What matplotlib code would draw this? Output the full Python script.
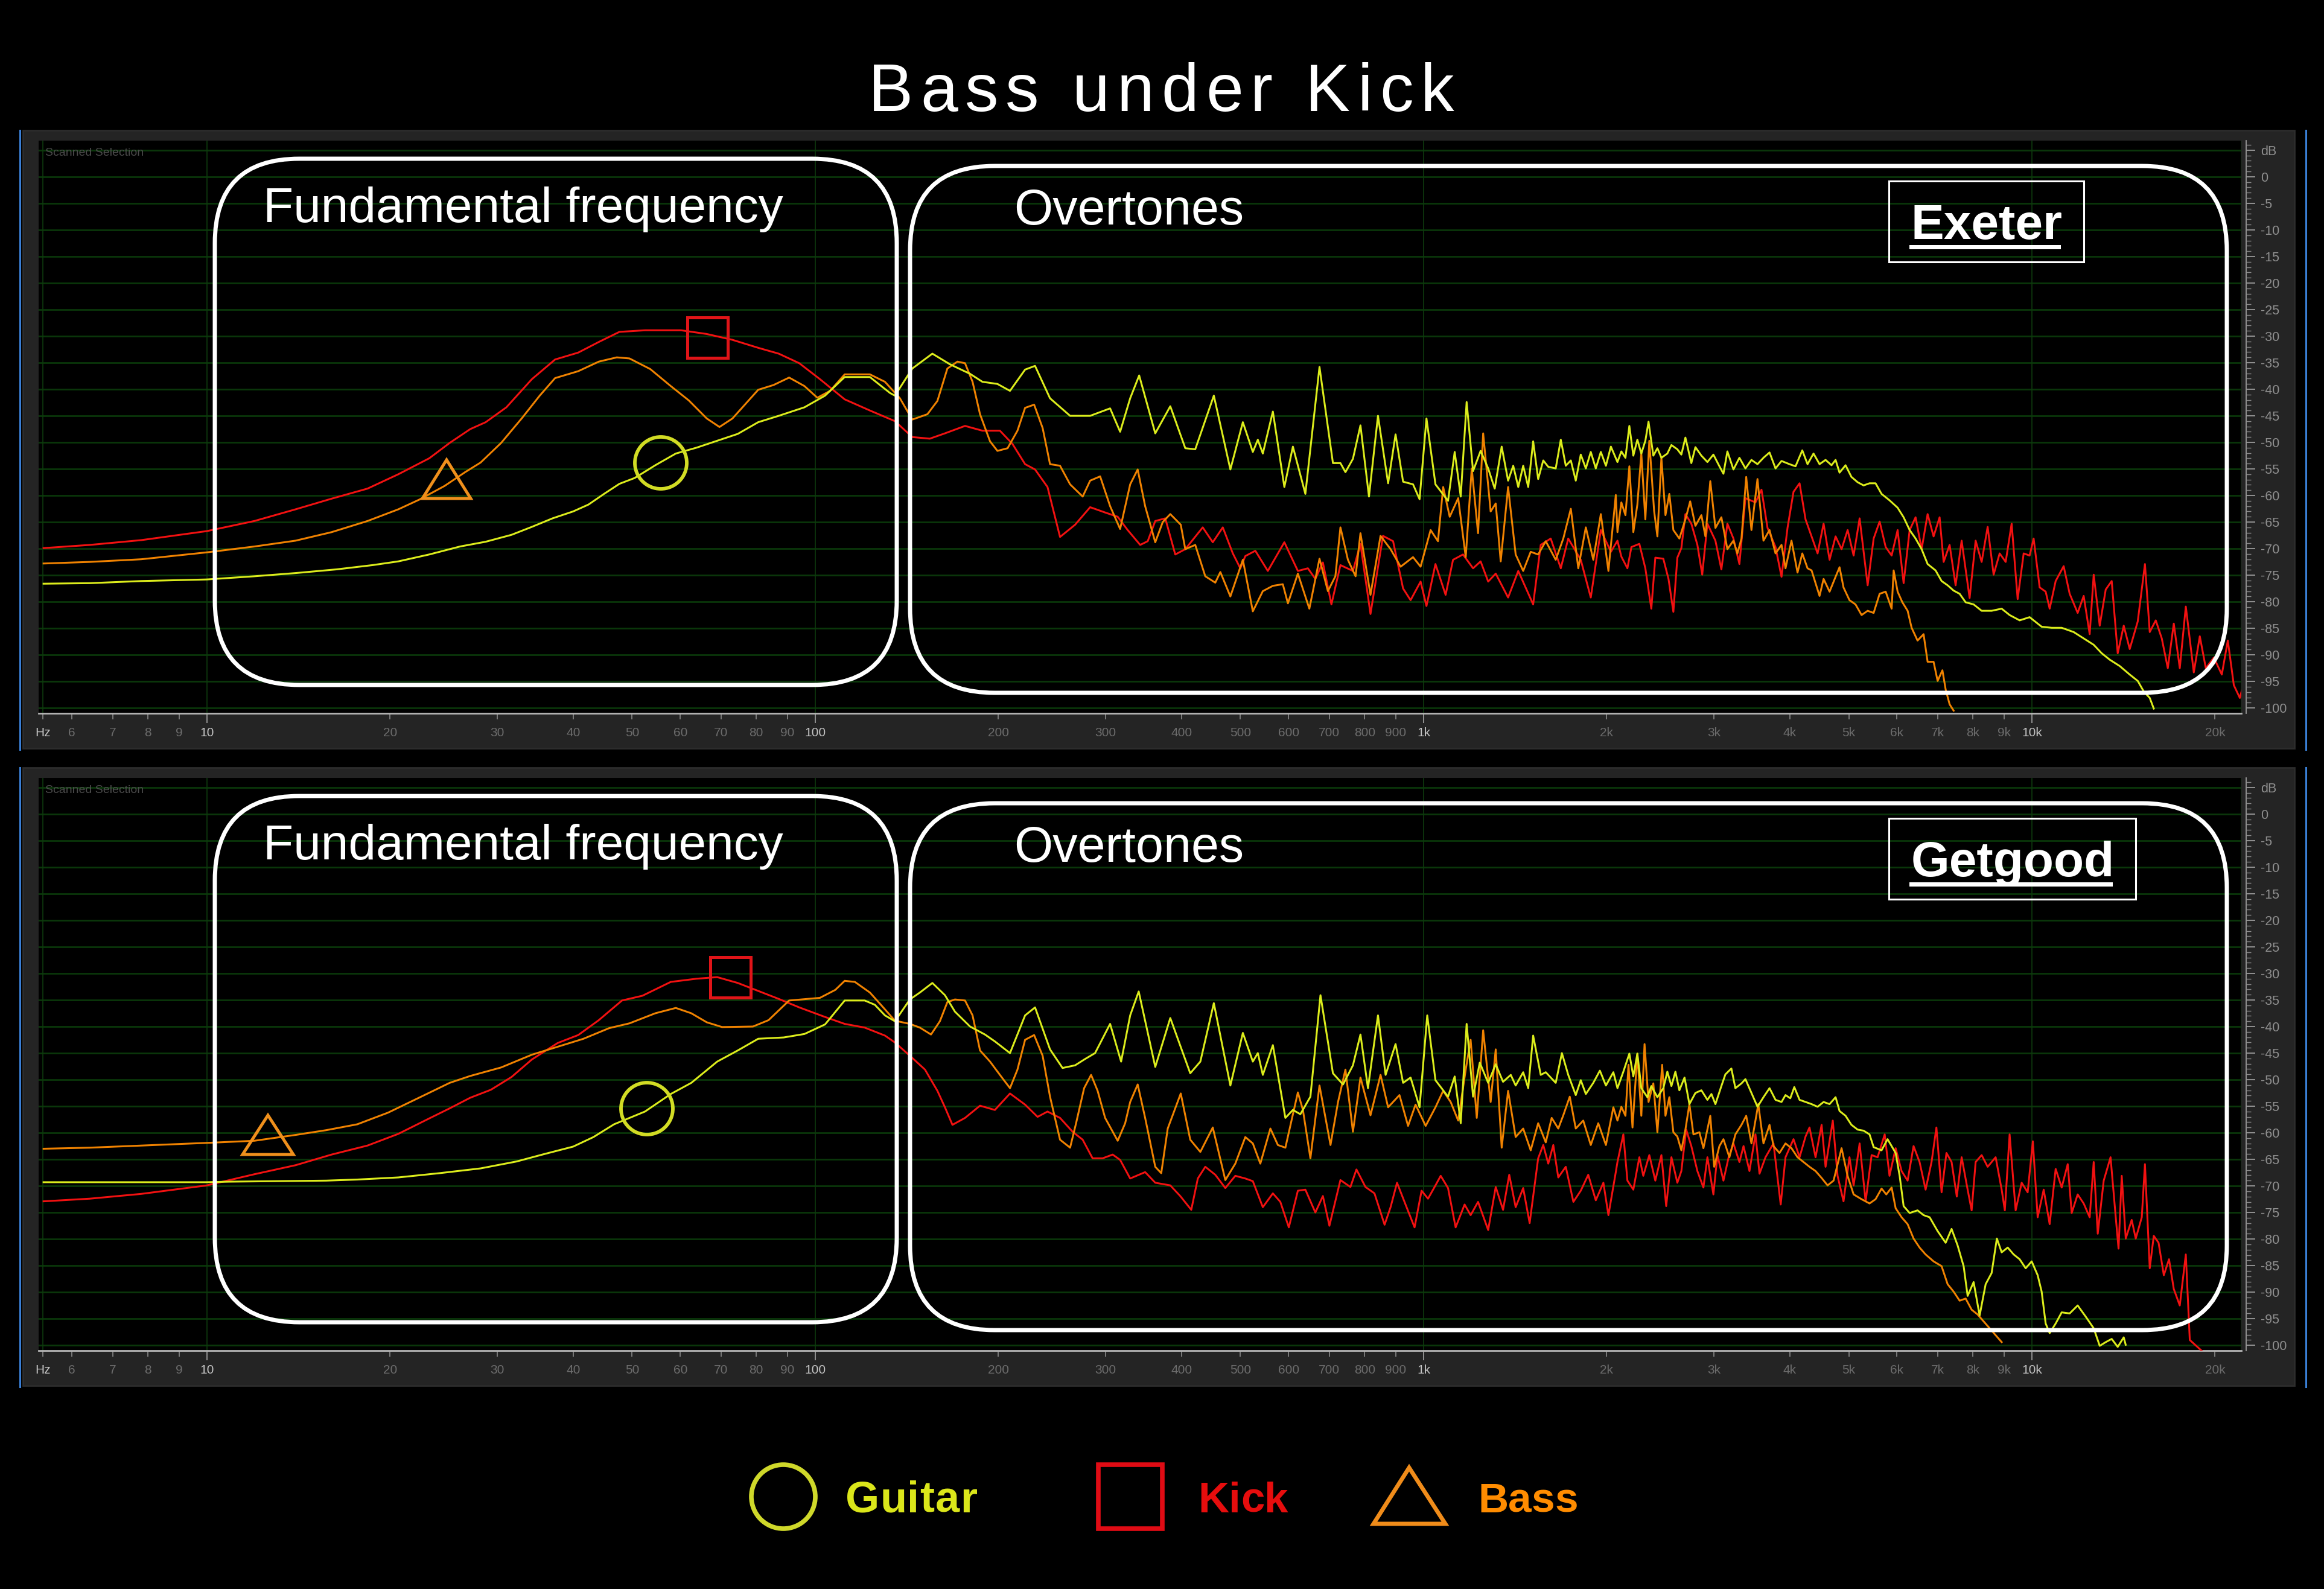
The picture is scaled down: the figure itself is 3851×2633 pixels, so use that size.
import matplotlib
matplotlib.use("Agg")
import numpy as np
import matplotlib.pyplot as plt
from matplotlib.patches import FancyBboxPatch, Rectangle, Circle, Polygon
from matplotlib.ticker import FixedLocator

plt.rcParams['font.family'] = ['Liberation Sans', 'DejaVu Sans']

# ---------------------------------------------------------------- data
# spectra: (frequency Hz, level dB)
EXETER_KICK = [
    (5.39, -69.9), (6.42, -69.3), (7.80, -68.4), (10.0, -66.7), (11.97, -64.8), (13.99, -62.6),
    (16.03, -60.6), (18.37, -58.7), (20.64, -56.0), (23.20, -53.0), (25.07, -50.1), (27.10, -47.5),
    (28.73, -46.2), (31.07, -43.4), (34.22, -38.1), (37.36, -34.4), (40.78, -33.1), (44.08, -31.1),
    (47.66, -29.2), (52.52, -28.9), (60.19, -28.9), (66.33, -29.6), (73.11, -30.7), (80.59, -32.2),
    (87.10, -33.3), (94.15, -35.1), (101.8, -38.1),
    (111.8, -41.9), (123.0, -44.0), (135.2, -46.0), (144.4, -49.0), (154.3, -49.3), (163.4, -48.3),
    (176.3, -46.9), (188.3, -47.8), (201.2, -47.8), (211.0, -50.3), (221.3, -54.1), (229.8, -55.1),
    (240.9, -58.4), (252.6, -67.8), (267.4, -65.5), (283.1, -62.2), (299.6, -63.2), (314.2, -64.0),
    (326.3, -66.5), (342.1, -69.3), (352.0, -68.6), (362.2, -64.8), (376.2, -64.3), (390.7, -71.1),
    (405.8, -70.1), (433.5, -66.0), (450.3, -68.8), (467.7, -66.0), (485.8, -70.9), (499.8, -73.7),
    (509.3, -71.4), (529.0, -70.4), (554.6, -74.2), (590.4, -68.8), (621.4, -74.2), (645.4, -73.7),
    (663.9, -75.7), (683.1, -72.6), (705.5, -80.5), (730.0, -73.1), (765.4, -74.2), (787.5, -69.1),
    (818.0, -82.3), (857.6, -67.6), (891.0, -68.6), (925.4, -77.5), (952.0, -79.7), (988.8, -76.2),
    (1011, -80.8), (1046, -72.9), (1087, -78.7), (1118, -72.1), (1161, -71.1), (1206, -73.7),
    (1241, -72.4), (1277, -76.2), (1314, -74.7), (1377, -79.2), (1431, -74.2), (1514, -80.5),
    (1558, -69.3), (1618, -68.1), (1681, -73.7), (1729, -68.1), (1813, -72.1), (1883, -79.2),
    (1956, -66.5), (2032, -70.6),
    (2083, -68.5), (2114, -71.5), (2163, -73.7), (2196, -69.7), (2263, -69.1), (2315, -73.7),
    (2368, -81.3), (2404, -71.7), (2478, -71.9), (2527, -75.7), (2574, -81.9), (2613, -71.7),
    (2653, -69.9), (2694, -63.5), (2755, -65.3), (2819, -69.3), (2871, -74.9), (2928, -65.3),
    (3018, -68.5), (3087, -73.9), (3158, -65.3), (3231, -68.1), (3305, -72.9), (3381, -60.5),
    (3512, -61.3), (3593, -58.9), (3676, -66.1), (3789, -69.7), (3876, -75.3), (3965, -66.1),
    (4056, -59.3), (4150, -57.7), (4245, -64.5), (4343, -67.7), (4443, -70.9), (4545, -65.3),
    (4649, -72.1), (4756, -67.7), (4865, -70.1), (4978, -66.5), (5092, -71.3), (5209, -64.3),
    (5370, -76.9), (5493, -68.1), (5619, -64.9), (5749, -69.7), (5880, -71.3), (6015, -66.5),
    (6153, -76.5), (6295, -66.5), (6438, -64.1), (6587, -70.1), (6738, -63.5), (6892, -67.7),
    (7051, -64.1), (7159, -72.5), (7323, -69.3), (7491, -76.9), (7664, -68.5), (7899, -79.3),
    (8081, -68.5), (8267, -72.5), (8457, -65.9), (8650, -74.9), (8850, -70.9), (9054, -72.5),
    (9261, -65.3), (9474, -79.5), (9692, -70.9), (9913, -71.3), (10065, -68.1), (10297, -77.3),
    (10534, -78.1), (10694, -81.3), (10940, -76.1), (11276, -73.3), (11535, -78.5), (11890, -82.1),
    (12164, -78.9), (12443, -86.1), (12634, -74.9), (12925, -84.5), (13222, -77.7), (13525, -76.1),
    (13836, -89.7), (14155, -84.5), (14479, -88.9), (14926, -83.7), (15338, -72.9), (15619, -85.7),
    (15979, -83.5), (16347, -86.9), (16724, -92.5), (17107, -84.1), (17500, -92.5), (17904, -80.9),
    (18453, -93.3), (18878, -86.5), (19313, -92.5), (19907, -90.5), (20518, -93.7), (20989, -87.3),
    (21472, -95.7), (21966, -98.1), (22405, -94.5),
]

EXETER_GUITAR = [
    (5.39, -76.6), (6.42, -76.5), (7.80, -76.1), (10.0, -75.8), (11.97, -75.2), (13.99, -74.6),
    (16.35, -73.9), (18.73, -73.1), (20.64, -72.4), (23.20, -71.1), (26.07, -69.6), (28.73, -68.7),
    (31.68, -67.4), (34.22, -65.9), (37.0, -64.3), (40.0, -63.0), (42.4, -61.7), (44.96, -59.7),
    (47.66, -57.8), (50.5, -56.7), (54.6, -54.3), (59.0, -52.1), (63.8, -51.0), (69.0, -49.7),
    (74.6, -48.4), (80.59, -46.2), (87.10, -45.0), (96.0, -43.4), (103.8, -41.2),
    (111.8, -37.7), (123.0, -37.7), (132.7, -40.7), (135.2, -41.2), (144.4, -36.1), (155.8, -33.3),
    (166.5, -35.3), (179.7, -37.1), (188.3, -38.6), (199.3, -39.0), (209.0, -40.3), (221.3, -36.3),
    (229.8, -35.6), (243.2, -41.7), (262.4, -45.0), (283.1, -45.0), (305.3, -43.6), (317.1, -48.0),
    (329.4, -41.7), (340.8, -37.4), (362.2, -48.3), (383.4, -43.2), (405.8, -51.1), (421.4, -51.3),
    (452.1, -41.2), (481.3, -55.1), (504.6, -46.2), (524.0, -51.8), (534.0, -49.5), (544.2, -52.1),
    (565.3, -44.2), (590.4, -58.4), (609.8, -50.8), (639.3, -59.7), (674.4, -35.8), (709.6, -53.9),
    (730.0, -53.9), (744.0, -55.6), (765.4, -53.1), (787.5, -46.8), (813.3, -60.2), (841.5, -45.0),
    (874.4, -57.7), (899.4, -48.5), (925.4, -57.4), (960.9, -57.9), (985.0, -60.7), (1011, -45.5),
    (1046, -57.9), (1097, -61.0), (1125, -51.8), (1151, -60.2), (1177, -42.4), (1206, -55.4),
    (1241, -51.6), (1277, -54.9), (1309, -58.7), (1344, -50.8), (1377, -57.2), (1404, -54.4),
    (1431, -58.4), (1458, -54.4), (1486, -58.4), (1514, -49.8), (1543, -56.9), (1573, -53.4),
    (1603, -54.6), (1649, -54.9), (1681, -49.5), (1713, -54.4), (1746, -53.4), (1779, -57.2),
    (1813, -52.3), (1848, -54.9), (1883, -51.8), (1919, -54.9), (1956, -51.8), (1994, -54.4),
    (2032, -50.8),
    (2083, -53.7), (2114, -51.7), (2147, -52.9), (2179, -46.9), (2212, -52.5), (2246, -49.5),
    (2280, -52.1), (2315, -49.7), (2343, -46.1), (2386, -52.5), (2423, -51.1), (2460, -52.9),
    (2516, -52.1), (2555, -50.5), (2613, -51.3), (2653, -52.3), (2694, -49.1), (2755, -53.9),
    (2798, -50.9), (2862, -52.5), (2928, -53.7), (2995, -52.3), (3064, -54.5), (3111, -55.9),
    (3158, -51.7), (3231, -55.1), (3305, -52.9), (3381, -54.9), (3459, -53.3), (3539, -54.1),
    (3620, -52.9), (3704, -51.9), (3789, -54.9), (3876, -53.5), (3994, -54.1), (4087, -54.5),
    (4193, -51.5), (4277, -54.1), (4375, -52.1), (4476, -54.1), (4579, -53.3), (4684, -54.3),
    (4756, -53.3), (4828, -55.7), (4939, -54.3), (5050, -56.5), (5170, -57.5), (5288, -58.1),
    (5408, -57.7), (5533, -57.7), (5660, -59.7), (5833, -60.9), (6015, -62.3), (6153, -64.1),
    (6295, -66.5), (6438, -68.1), (6587, -70.1), (6738, -72.9), (6944, -74.1), (7104, -76.1),
    (7268, -76.9), (7435, -77.9), (7606, -78.5), (7781, -80.1), (8020, -80.5), (8267, -81.7),
    (8585, -81.7), (8918, -81.3), (9190, -82.5), (9546, -83.5), (9913, -82.9), (10375, -84.7),
    (10775, -84.9), (11192, -84.9), (11712, -85.7), (12164, -86.9), (12634, -88.1), (13024, -89.7),
    (13423, -90.9), (13942, -92.1), (14479, -93.7), (14926, -94.9), (15272, -96.9), (15619, -98.1),
    (15859, -100.1),
]

EXETER_BASS = [
    (5.39, -72.8), (6.42, -72.5), (7.80, -72.0), (10.0, -70.7), (11.97, -69.6), (13.99, -68.5),
    (16.03, -66.9), (18.37, -64.8), (20.64, -62.6), (22.32, -60.8), (24.59, -58.2), (26.58, -55.6),
    (28.18, -53.8), (30.46, -50.1), (32.92, -45.5), (35.25, -41.2), (37.36, -37.9), (40.78, -36.6),
    (44.08, -34.8), (47.19, -34.0), (49.5, -34.2), (53.56, -36.2), (57.88, -39.4), (61.97, -42.1),
    (66.33, -45.5), (69.6, -47.1), (73.11, -45.5), (80.59, -40.1), (85.42, -39.2), (90.6, -37.8),
    (96.0, -39.4), (100.8, -41.6), (105.8, -40.3),
    (111.8, -37.2), (123.0, -37.2), (130.2, -38.6), (137.8, -41.7), (144.4, -45.7), (152.9, -44.7),
    (158.8, -42.2), (164.9, -36.1), (171.3, -34.8), (176.3, -35.1), (181.4, -38.6), (186.6, -44.7),
    (193.8, -49.8), (199.3, -51.6), (207.1, -51.1), (215.0, -47.8), (221.3, -43.5), (229.0, -42.9),
    (236.5, -47.3), (243.2, -54.1), (252.6, -54.4), (262.4, -57.9), (275.2, -60.2), (283.1, -57.2),
    (294.0, -56.4), (305.3, -62.0), (317.1, -66.3), (329.4, -57.9), (338.9, -55.1), (348.6, -62.0),
    (362.2, -68.8), (372.6, -65.0), (383.4, -63.5), (398.9, -65.5), (405.8, -70.1), (421.4, -69.3),
    (437.7, -75.2), (454.6, -76.4), (463.4, -74.4), (481.3, -79.0), (504.6, -72.1), (524.0, -81.8),
    (544.2, -78.0), (565.3, -77.0), (587.0, -76.7), (598.4, -80.3), (621.4, -74.7), (649.0, -81.3),
    (674.4, -71.9), (696.2, -78.0), (716.2, -75.2), (730.0, -66.0), (751.0, -72.1), (773.1, -75.2),
    (787.5, -67.1), (818.0, -78.7), (849.7, -67.6), (882.6, -70.1), (916.8, -73.4), (960.9, -71.6),
    (988.8, -73.4), (1027, -66.5), (1056, -68.6), (1077, -58.4), (1104, -64.0), (1140, -60.5),
    (1173, -71.6), (1200, -54.9), (1229, -67.1), (1253, -48.3), (1289, -63.0), (1314, -61.5),
    (1339, -72.4), (1377, -58.4), (1417, -71.1), (1458, -74.2), (1500, -70.6), (1543, -71.1),
    (1588, -68.6), (1649, -72.1), (1697, -68.1), (1746, -62.5), (1796, -73.7), (1848, -66.0),
    (1901, -72.1), (1956, -63.5), (2013, -74.2), (2070, -59.9),
    (2083, -66.9), (2114, -61.3), (2147, -63.7), (2179, -54.5), (2212, -66.9), (2246, -61.7),
    (2280, -52.1), (2315, -64.5), (2350, -49.7), (2393, -62.9), (2423, -67.7), (2460, -52.9),
    (2498, -63.7), (2535, -59.7), (2574, -66.5), (2633, -68.1), (2694, -64.5), (2743, -61.1),
    (2798, -65.7), (2862, -63.7), (2906, -67.7), (2960, -57.3), (3018, -66.1), (3087, -64.1),
    (3158, -70.1), (3231, -68.5), (3280, -70.9), (3331, -68.1), (3391, -56.5), (3459, -66.5),
    (3539, -56.9), (3620, -68.5), (3704, -66.5), (3789, -70.9), (3876, -69.3), (3935, -73.7),
    (4025, -68.5), (4118, -74.5), (4193, -70.9), (4277, -73.7), (4343, -74.1), (4409, -76.5),
    (4476, -78.9), (4545, -75.7), (4649, -78.1), (4756, -75.3), (4828, -73.5), (4901, -77.3),
    (5013, -79.7), (5129, -80.5), (5248, -82.5), (5370, -81.7), (5493, -82.1), (5619, -78.5),
    (5749, -78.1), (5880, -81.3), (5925, -74.1), (6015, -78.1), (6124, -80.1), (6247, -81.7),
    (6342, -84.9), (6486, -87.3), (6636, -86.1), (6738, -91.3), (6892, -91.3), (6998, -94.9),
    (7126, -92.9), (7214, -96.5), (7323, -99.3), (7435, -100.5),
]

GETGOOD_KICK = [
    (5.39, -72.9), (6.42, -72.4), (7.80, -71.5), (10.0, -69.9), (11.97, -67.8), (13.99, -66.1),
    (16.03, -64.1), (18.37, -62.4), (20.64, -60.2), (23.20, -57.3), (25.07, -55.4), (27.10, -53.4),
    (29.3, -51.9), (31.68, -49.5), (34.22, -46.2), (37.73, -43.1), (40.78, -41.6), (44.08, -38.8),
    (48.12, -35.1), (52.0, -34.2), (57.88, -31.6), (63.8, -31.0), (69.0, -30.7), (74.6, -31.8),
    (80.59, -33.3), (87.10, -34.8), (94.15, -36.4), (103.8, -38.2),
    (111.8, -39.5), (120.6, -40.2), (130.2, -41.7), (135.2, -43.0), (143.1, -45.5), (151.5, -48.1),
    (158.8, -52.1), (163.4, -55.2), (168.1, -58.5), (176.3, -57.2), (186.6, -54.9), (197.4, -55.7),
    (209.0, -52.6), (221.3, -54.7), (232.0, -57.0), (240.9, -56.0), (252.6, -57.2), (264.9, -59.8),
    (275.2, -61.3), (285.7, -64.8), (296.8, -64.8), (308.3, -64.1), (317.1, -65.1), (329.4, -68.6),
    (348.6, -67.4), (362.2, -69.4), (383.4, -69.9), (398.1, -71.9), (415.1, -74.5), (425.5, -68.6),
    (437.7, -66.4), (454.6, -67.9), (472.2, -70.4), (490.4, -68.1), (509.3, -68.6), (524.0, -69.1),
    (544.2, -74.0), (565.3, -71.4), (581.5, -73.0), (600.5, -77.8), (621.4, -70.9), (639.3, -70.7),
    (663.9, -75.0), (683.1, -71.9), (700.2, -77.5), (730.0, -68.9), (758.2, -70.2), (775.6, -66.9),
    (802.6, -70.2), (830.4, -71.4), (862.8, -77.3), (882.6, -74.0), (904.4, -69.4), (934.0, -73.5),
    (966.5, -77.8), (992.5, -70.9), (1017, -72.4), (1046, -69.9), (1067, -68.1), (1097, -70.4),
    (1129, -77.8), (1168, -73.5), (1195, -75.5), (1229, -73.0), (1277, -78.3), (1314, -70.2),
    (1351, -74.5), (1383, -67.9), (1417, -74.0), (1458, -70.4), (1494, -77.0), (1543, -64.8),
    (1573, -62.3), (1603, -65.8), (1634, -62.3), (1665, -68.4), (1713, -66.4), (1763, -73.0),
    (1813, -70.9), (1865, -67.9), (1919, -72.7), (1975, -69.4), (2013, -75.5), (2070, -67.4),
    (2083, -65.5), (2130, -60.3), (2163, -69.0), (2212, -70.7), (2263, -64.6), (2297, -68.1),
    (2350, -64.2), (2404, -69.0), (2460, -64.2), (2505, -73.8), (2555, -64.6), (2613, -69.4),
    (2653, -67.2), (2702, -59.4), (2755, -62.5), (2819, -67.2), (2884, -70.3), (2928, -64.6),
    (2995, -71.6), (3041, -64.2), (3111, -69.0), (3173, -64.6), (3231, -62.0), (3305, -65.5),
    (3357, -62.5), (3433, -67.2), (3512, -60.3), (3566, -67.7), (3648, -64.6), (3760, -62.0),
    (3864, -73.5), (3935, -64.6), (4056, -61.2), (4150, -64.6), (4245, -60.7), (4309, -59.0),
    (4409, -64.6), (4511, -58.5), (4579, -66.4), (4706, -57.7), (4792, -68.1), (4901, -72.9),
    (5013, -64.6), (5092, -69.9), (5209, -62.0), (5329, -72.9), (5451, -64.2), (5576, -64.6),
    (5728, -60.3), (5833, -68.1), (5970, -62.9), (6106, -67.2), (6247, -69.0), (6389, -62.5),
    (6536, -65.5), (6687, -70.7), (6839, -65.5), (6966, -59.0), (7104, -71.2), (7236, -63.8),
    (7378, -65.5), (7525, -72.0), (7664, -64.6), (7840, -70.7), (7960, -74.6), (8081, -65.5),
    (8267, -64.2), (8457, -66.4), (8717, -64.6), (8918, -70.7), (9025, -74.6), (9190, -60.3),
    (9402, -74.6), (9619, -69.4), (9840, -71.2), (10035, -61.6), (10219, -75.9), (10455, -70.7),
    (10694, -77.2), (10940, -66.8), (11192, -70.3), (11451, -65.9), (11624, -75.1), (11890, -71.6),
    (12164, -73.3), (12443, -75.9), (12634, -65.5), (12829, -79.0), (13122, -69.0), (13466, -64.6),
    (13733, -75.9), (13879, -81.8), (14048, -68.1), (14263, -79.9), (14588, -76.4), (14813, -79.9),
    (15155, -75.9), (15338, -65.9), (15619, -85.5), (15859, -79.4), (16150, -80.7), (16474, -86.8),
    (16801, -83.8), (17107, -89.4), (17500, -92.5), (17904, -82.9), (18175, -99.0), (19000, -101.0),
]

GETGOOD_GUITAR = [
    (5.39, -69.3), (10.0, -69.3), (10.86, -69.2), (15.72, -69.0), (17.67, -68.8), (20.64, -68.4),
    (24.12, -67.6), (28.18, -66.7), (32.29, -65.4), (35.6, -64.1), (40.0, -62.6), (43.2, -60.8),
    (46.7, -58.4), (52.5, -56.0), (57.88, -52.7), (62.56, -50.6), (69.0, -46.6), (74.6, -44.5),
    (80.59, -42.3), (88.8, -42.05), (96.0, -41.4), (103.8, -39.6),
    (111.8, -35.1), (120.6, -35.1), (125.3, -35.9), (130.2, -37.9), (135.2, -39.0), (143.1, -34.9),
    (148.6, -33.6), (155.8, -31.8), (163.4, -34.1), (169.7, -37.2), (179.7, -40.0), (190.1, -41.5),
    (197.4, -42.8), (209.0, -45.0), (221.3, -37.9), (229.8, -36.4), (243.2, -44.3), (255.0, -47.8),
    (267.4, -47.3), (277.8, -46.1), (288.4, -45.0), (305.3, -39.5), (318.3, -46.6), (329.4, -37.9),
    (340.2, -33.4), (362.2, -47.6), (383.4, -38.4), (413.5, -48.8), (429.6, -46.6), (452.1, -35.6),
    (481.3, -51.1), (504.6, -41.2), (524.0, -46.6), (534.0, -45.0), (544.2, -49.1), (565.3, -43.5),
    (592.7, -57.2), (609.8, -55.7), (627.3, -56.5), (651.6, -53.2), (676.9, -34.1), (709.6, -48.8),
    (737.2, -50.9), (765.4, -47.3), (787.5, -41.5), (810.2, -51.6), (841.5, -37.9), (866.1, -49.1),
    (899.4, -43.3), (925.4, -50.6), (952.0, -49.6), (985.0, -55.2), (1014, -37.9), (1046, -50.1),
    (1097, -53.2), (1125, -49.4), (1151, -58.2), (1177, -39.5), (1206, -53.2), (1237, -46.8),
    (1277, -50.6), (1314, -47.1), (1351, -50.4), (1391, -49.1), (1417, -51.1), (1458, -48.6),
    (1486, -51.6), (1514, -41.7), (1558, -49.1), (1588, -48.6), (1649, -50.6), (1688, -45.0),
    (1729, -49.1), (1779, -52.9), (1813, -50.1), (1848, -52.7), (1901, -50.6), (1949, -48.3),
    (1994, -51.1), (2051, -48.6),
    (2083, -51.6), (2130, -48.5), (2179, -45.1), (2212, -49.4), (2246, -45.1), (2280, -51.6),
    (2333, -53.3), (2368, -51.2), (2423, -53.3), (2478, -51.6), (2516, -48.5), (2555, -51.2),
    (2594, -48.5), (2633, -52.0), (2685, -49.6), (2735, -54.6), (2798, -52.5), (2862, -52.0),
    (2928, -53.8), (2973, -52.7), (3018, -54.6), (3087, -51.2), (3134, -49.0), (3206, -47.9),
    (3255, -51.6), (3331, -50.7), (3381, -49.9), (3459, -52.5), (3539, -55.1), (3620, -53.3),
    (3704, -51.6), (3789, -53.8), (3876, -54.2), (3935, -52.9), (4007, -53.5), (4068, -51.4),
    (4150, -53.8), (4245, -54.2), (4343, -54.6), (4443, -55.1), (4545, -54.2), (4649, -54.6),
    (4756, -53.3), (4828, -55.9), (4939, -56.8), (5050, -58.5), (5170, -59.4), (5288, -59.6),
    (5408, -60.3), (5493, -62.7), (5660, -63.3), (5790, -61.2), (5970, -63.8), (6061, -68.1),
    (6153, -73.8), (6295, -75.1), (6486, -74.6), (6636, -75.5), (6790, -75.9), (6998, -78.5),
    (7214, -80.7), (7378, -78.1), (7548, -81.2), (7722, -85.1), (7840, -90.7), (8020, -88.1),
    (8204, -94.4), (8393, -88.5), (8585, -86.4), (8757, -79.9), (8918, -82.5), (9124, -81.6),
    (9332, -82.9), (9546, -83.8), (9766, -85.5), (9991, -84.2), (10219, -86.8), (10375, -89.9),
    (10534, -95.9), (10694, -97.7), (10940, -95.9), (11192, -93.8), (11535, -94.0), (11890, -92.5),
    (12257, -94.6), (12634, -96.8), (12925, -100.1), (13222, -99.4), (13525, -98.8), (13836, -100.3),
    (14155, -98.5), (14260, -99.9),
]

GETGOOD_BASS = [
    (5.39, -63.0), (6.42, -62.8), (7.80, -62.4), (10.0, -61.9), (11.97, -61.5), (13.99, -60.4),
    (15.72, -59.5), (17.67, -58.4), (19.86, -56.2), (22.32, -53.4), (25.07, -50.6), (27.10, -49.3),
    (30.46, -47.7), (34.22, -45.3), (37.73, -43.8), (41.6, -42.3), (45.84, -40.3), (49.5, -39.4),
    (54.6, -37.5), (59.0, -36.5), (62.56, -37.5), (66.33, -39.2), (70.3, -40.1), (79.0, -40.0),
    (83.8, -38.8), (90.6, -35.1), (101.8, -34.6), (107.9, -33.1),
    (111.8, -31.4), (116.2, -31.6), (123.0, -33.6), (128.9, -36.2), (135.2, -38.9), (143.1, -39.5),
    (148.6, -40.2), (155.0, -41.5), (160.3, -39.0), (164.9, -35.4), (169.7, -34.9), (176.3, -35.1),
    (181.4, -37.9), (186.6, -44.5), (193.8, -46.6), (201.2, -49.1), (209.0, -51.6), (215.0, -48.1),
    (221.3, -42.5), (229.0, -41.6), (236.5, -45.5), (243.2, -53.2), (252.6, -61.3), (262.4, -62.8),
    (268.4, -58.2), (276.7, -51.6), (284.1, -49.1), (291.2, -52.1), (299.6, -57.2), (314.2, -61.5),
    (323.2, -58.2), (329.4, -54.2), (338.9, -50.9), (348.6, -57.2), (362.2, -66.4), (370.5, -67.6),
    (379.7, -59.2), (398.9, -52.6), (413.5, -61.3), (429.6, -63.6), (450.3, -59.0), (472.2, -68.9),
    (490.4, -65.8), (509.3, -60.8), (524.0, -62.0), (539.1, -65.8), (560.0, -59.2), (576.1, -62.3),
    (592.7, -62.8), (621.4, -52.4), (633.4, -55.7), (651.6, -64.8), (674.4, -51.1), (703.1, -62.3),
    (723.4, -54.2), (744.0, -48.1), (765.4, -59.8), (787.5, -49.6), (818.0, -56.7), (849.7, -49.1),
    (874.4, -55.2), (912.8, -52.9), (943.0, -58.7), (970.1, -54.7), (1008, -58.7), (1046, -55.2),
    (1077, -52.1), (1108, -54.2), (1140, -57.7), (1173, -48.1), (1195, -42.5), (1223, -57.2),
    (1253, -40.7), (1289, -54.2), (1314, -44.3), (1344, -62.8), (1377, -52.1), (1417, -60.8),
    (1458, -59.2), (1500, -63.3), (1543, -58.2), (1588, -61.8), (1624, -57.2), (1665, -59.2),
    (1697, -56.7), (1739, -53.2), (1779, -59.2), (1830, -57.7), (1883, -62.3), (1937, -58.2),
    (1994, -62.3), (2051, -55.2),
    (2083, -57.7), (2114, -55.1), (2147, -56.8), (2172, -47.2), (2205, -59.0), (2246, -45.1),
    (2280, -56.8), (2308, -43.3), (2343, -54.2), (2386, -50.7), (2423, -59.9), (2467, -47.2),
    (2498, -56.8), (2535, -53.3), (2574, -59.9), (2613, -60.7), (2653, -63.3), (2694, -59.4),
    (2735, -54.6), (2777, -60.3), (2841, -59.9), (2884, -62.9), (2960, -56.8), (3004, -66.4),
    (3064, -62.5), (3111, -61.2), (3182, -64.6), (3255, -60.3), (3331, -58.5), (3391, -56.8),
    (3459, -62.0), (3550, -54.6), (3620, -62.0), (3704, -58.5), (3760, -62.5), (3846, -63.8),
    (3935, -62.0), (4025, -62.9), (4118, -64.6), (4212, -65.5), (4309, -66.4), (4409, -67.2),
    (4511, -68.5), (4614, -69.9), (4720, -69.0), (4865, -62.9), (4977, -68.1), (5092, -71.6),
    (5248, -72.5), (5408, -73.3), (5533, -72.5), (5660, -70.5), (5763, -71.6), (5880, -70.3),
    (5970, -74.2), (6106, -75.9), (6247, -77.2), (6389, -79.9), (6536, -81.6), (6687, -82.9),
    (6892, -84.2), (7104, -85.1), (7268, -88.5), (7435, -89.9), (7606, -91.6), (7781, -91.2),
    (7960, -93.3), (8142, -94.2), (8330, -95.5), (8521, -96.8), (8717, -98.1), (8918, -99.4),
]

PANELS = [
    ("Exeter", EXETER_GUITAR, EXETER_KICK, EXETER_BASS),
    ("Getgood", GETGOOD_GUITAR, GETGOOD_KICK, GETGOOD_BASS),
]

X_TICKS_MAJOR = [10, 100, 1000, 10000]
X_LABELS_MAJOR = ["10", "100", "1k", "10k"]
X_TICKS_MINOR = [5.37, 6, 7, 8, 9, 20, 30, 40, 50, 60, 70, 80, 90,
                 200, 300, 400, 500, 600, 700, 800, 900,
                 2000, 3000, 4000, 5000, 6000, 7000, 8000, 9000, 20000]
X_LABELS_MINOR = ["Hz", "6", "7", "8", "9", "20", "30", "40", "50", "60", "70", "80", "90",
                  "200", "300", "400", "500", "600", "700", "800", "900",
                  "2k", "3k", "4k", "5k", "6k", "7k", "8k", "9k", "20k"]
DB_TICKS = list(range(5, -101, -5))
DB_LABELS = ["dB"] + [str(v) for v in DB_TICKS[1:]]
F_MIN, F_MAX = 5.29, 22090
DB_MIN, DB_MAX = -101.0, 6.8

C_GUITAR = "#dcec1c"
C_KICK = "#f21111"
C_BASS = "#f08200"

# ---------------------------------------------------------------- figure
W, H = 3851, 2633
DY = 1056  # vertical shift of the lower panel, px

fig = plt.figure(figsize=(W / 100, H / 100), dpi=100, facecolor="black")

bg = fig.add_axes([0, 0, 1, 1], zorder=0)
bg.set_xlim(0, W)
bg.set_ylim(H, 0)
bg.axis("off")

ov = fig.add_axes([0, 0, 1, 1], zorder=10)
ov.set_xlim(0, W)
ov.set_ylim(H, 0)
ov.axis("off")
ov.patch.set_alpha(0)


def spaced_text(ax, x, y, s, gap, ha="center", **kw):
    r = fig.canvas.get_renderer()
    widths = []
    for ch in s:
        t = ax.text(0, 0, "x" if ch == " " else ch, **kw)
        w = t.get_window_extent(r).width
        t.remove()
        widths.append(w * 0.55 if ch == " " else w)
    total = sum(widths) + gap * (len(s) - 1)
    x0 = x - total / 2 if ha == "center" else x
    for ch, w in zip(s, widths):
        if ch != " ":
            ax.text(x0, y, ch, ha="left", va="baseline", **kw)
        x0 += w + gap
    return total


for i, (name, guitar, kick, bass) in enumerate(PANELS):
    dy = i * DY

    # dark analyser frame + blue side bars
    bg.add_patch(Rectangle((38, 216 + dy), 3764, 1024, fc="#242424", ec="#2c2c2c", lw=2))
    bg.plot([33, 33], [216 + dy, 1242 + dy], color="#3a7fd6", lw=2.2)
    bg.plot([3821, 3821], [216 + dy, 1242 + dy], color="#3a7fd6", lw=2.2)

    ax = fig.add_axes([64 / W, 1 - (1182 + dy) / H, 3650 / W, 949 / H], zorder=2)
    ax.set_facecolor("black")
    ax.set_xscale("log")
    ax.set_xlim(F_MIN, F_MAX)
    ax.set_ylim(DB_MIN, DB_MAX)

    for v in DB_TICKS:
        ax.axhline(v, color="#0a360a", lw=2.0, zorder=1)
    for f in [X_TICKS_MINOR[0]] + X_TICKS_MAJOR + [F_MAX]:
        ax.axvline(f, color="#0e3a0e", lw=1.2, zorder=1)

    for data, col, z in [(kick, C_KICK, 3), (bass, C_BASS, 4), (guitar, C_GUITAR, 5)]:
        f, db = np.array(data).T
        ax.plot(f, db, color=col, lw=2.2, zorder=z, solid_joinstyle="round")

    for s in ["top", "left"]:
        ax.spines[s].set_visible(False)
    ax.spines["bottom"].set_color("#b4b4b4")
    ax.spines["bottom"].set_linewidth(2.0)
    ax.spines["right"].set_position(("outward", 6))
    ax.spines["right"].set_color("#9a9a9a")
    ax.spines["right"].set_linewidth(1.3)

    ax.yaxis.set_ticks_position("right")
    ax.set_yticks(DB_TICKS)
    ax.set_yticklabels(DB_LABELS)
    ax.yaxis.set_minor_locator(FixedLocator(list(range(6, -101, -1))))
    ax.tick_params(axis="y", which="major", direction="out", length=11, width=1.3,
                   color="#9a9a9a", pad=6, labelsize=15.5, labelcolor="#8e8e8e")
    ax.tick_params(axis="y", which="minor", direction="out", length=6, width=1.0, color="#8a8a8a")

    ax.set_xticks(X_TICKS_MAJOR)
    ax.set_xticklabels(X_LABELS_MAJOR)
    ax.set_xticks(X_TICKS_MINOR, minor=True)
    ax.set_xticklabels(X_LABELS_MINOR, minor=True)
    ax.tick_params(axis="x", which="major", direction="out", length=11.5, width=1.3,
                   color="#9a9a9a", pad=5, labelsize=15, labelcolor="#c4c4c4")
    ax.tick_params(axis="x", which="minor", direction="out", length=7.5, width=1.2,
                   color="#8a8a8a", pad=9, labelsize=15, labelcolor="#6c6c6c")
    ax.get_xticklabels(minor=True)[0].set_color("#c4c4c4")

    # overlay annotations
    ov.text(75, 254 + dy, "Scanned Selection", fontsize=14, color="#4a4a4a", va="center")
    ov.add_patch(FancyBboxPatch((356, 263 + dy), 1130, 872,
                                boxstyle="round,pad=0,rounding_size=140",
                                fill=False, ec="white", lw=5))
    ov.add_patch(FancyBboxPatch((1508, 275 + dy), 2182, 873,
                                boxstyle="round,pad=0,rounding_size=140",
                                fill=False, ec="white", lw=5))
    ov.text(436, 368 + dy, "Fundamental frequency", fontsize=59, color="white", va="baseline")
    ov.text(1680, 372 + dy, "Overtones", fontsize=59.5, color="white", va="baseline")

    t = ov.text(3167, 396 + dy, name, fontsize=59, fontweight="bold", color="white", va="baseline")
    wt = t.get_window_extent(fig.canvas.get_renderer()).width
    ov.add_patch(Rectangle((3164, 406 + dy), wt, 7, fc="white", ec="none"))
    ov.add_patch(Rectangle((3130, 300 + dy), wt + 72, 134, fill=False, ec="white", lw=2.2))

# instrument markers on the curves (px positions in the picture)
ov.add_patch(Rectangle((1139, 526), 67, 67, fill=False, ec="#e01418", lw=3.6))
ov.add_patch(Circle((1095, 767), 43, fill=False, ec="#d2dc24", lw=4.2))
ov.add_patch(Polygon([(700, 826), (740, 762), (780, 826)], closed=True, fill=False,
                     ec="#f0901c", lw=3.6, joinstyle="miter"))
ov.add_patch(Rectangle((1177, 1586), 67, 67, fill=False, ec="#e01418", lw=3.6))
ov.add_patch(Circle((1072, 1837), 43, fill=False, ec="#d2dc24", lw=4.2))
ov.add_patch(Polygon([(402, 1913), (444, 1848), (486, 1913)], closed=True, fill=False,
                     ec="#f0901c", lw=3.6, joinstyle="miter"))

# title
spaced_text(ov, 1924, 184, "Bass under Kick", 12, fontsize=80, color="white")

# legend
ov.add_patch(Circle((1298, 2480), 53, fill=False, ec="#cfd82a", lw=5.5))
spaced_text(ov, 1401, 2506, "Guitar", 1, ha="left", fontsize=52, fontweight="bold", color="#dbe61a")
ov.add_patch(Rectangle((1820, 2427), 106, 106, fill=False, ec="#e00b14", lw=5.5))
spaced_text(ov, 1985, 2506, "Kick", 0, ha="left", fontsize=51, fontweight="bold", color="#e60d0d")
ov.add_patch(Polygon([(2276, 2525), (2335, 2432), (2395, 2525)], closed=True, fill=False,
                     ec="#f08c1a", lw=5, joinstyle="miter"))
spaced_text(ov, 2449, 2506, "Bass", 0, ha="left", fontsize=50, fontweight="bold", color="#ff8c00")

fig.savefig("out.png", dpi=100, facecolor="black")
